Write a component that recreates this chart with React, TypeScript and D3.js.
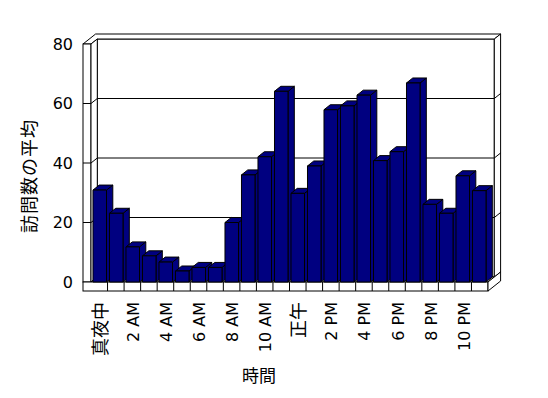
import React from "react";
import * as d3 from "d3";

// 時間ごとの訪問数の平均
const categories = [
  "真夜中", "1 AM", "2 AM", "3 AM", "4 AM", "5 AM", "6 AM", "7 AM", "8 AM", "9 AM", "10 AM", "11 AM",
  "正午", "1 PM", "2 PM", "3 PM", "4 PM", "5 PM", "6 PM", "7 PM", "8 PM", "9 PM", "10 PM", "11 PM",
];
const visits = [
  30.9, 23.1, 11.8, 8.8, 6.7, 3.7, 4.9, 4.9, 20.0, 36.0, 42.1, 64.1,
  29.8, 39.0, 57.9, 59.2, 62.8, 40.8, 43.8, 66.9, 26.1, 23.1, 35.7, 30.7,
];
const yTicks = [0, 20, 40, 60, 80];
const shownLabels = ["真夜中", "2 AM", "4 AM", "6 AM", "8 AM", "10 AM", "正午", "2 PM", "4 PM", "6 PM", "8 PM", "10 PM"];

const W = 548, H = 398;
const wallL = 83, plotL = 91, plotR = 488;
const floorTop = 282, floorBot = 291;
const dx = 6.3, dy = -5; // depth offset
const font = "'DejaVu Sans', 'Noto Sans CJK JP', sans-serif";
const barFill = "#000080";

const pts = (a: number[][]) => a.map(p => p.join(",")).join(" ");

export default function App() {
  const y = d3.scaleLinear().domain([0, 80]).range([floorTop, 44]);
  const x = d3.scaleBand<string>().domain(categories).range([plotL, plotR]).paddingInner(0.18).paddingOuter(0.12);
  const cell = d3.scaleBand<string>().domain(categories).range([plotL, plotR]);
  const bw = x.bandwidth();
  const top = y(80);

  const wallStyle = { fill: "#fff", stroke: "#000", strokeWidth: 1 };

  return (
    <svg width={W} height={H} style={{ position: "absolute", left: 0, top: 0, background: "#fff" }}>
      {/* back wall */}
      <polygon points={pts([[plotL + dx, top + dy], [plotR + dx, top + dy], [plotR + dx, floorTop + dy], [plotL + dx, floorTop + dy]])} {...wallStyle} />
      <polygon points={pts([[wallL, top], [plotL, top], [plotL + dx, top + dy], [plotR + dx, top + dy], [plotR + 2 * dx, top + 2 * dy], [wallL + 2 * dx, top + 2 * dy]])} {...wallStyle} />
      <polygon points={pts([[plotR + dx, top + dy], [plotR + 2 * dx, top + 2 * dy], [plotR + 2 * dx, floorTop + 2 * dy], [plotR + dx, floorTop + dy]])} {...wallStyle} />
      {/* left wall */}
      <rect x={wallL} y={top} width={plotL - wallL} height={floorTop - top} {...wallStyle} />
      <polygon points={pts([[plotL, top], [plotL + dx, top + dy], [plotL + dx, floorTop + dy], [plotL, floorTop]])} {...wallStyle} />
      {/* floor */}
      <polygon points={pts([[plotL, floorTop], [plotL + dx, floorTop + dy], [plotR + dx, floorTop + dy], [plotR, floorTop]])} {...wallStyle} />
      <rect x={wallL} y={floorTop} width={plotR - wallL} height={floorBot - floorTop} {...wallStyle} />
      <polygon points={pts([[plotR, floorTop], [plotR + 2 * dx, floorTop + 2 * dy], [plotR + 2 * dx, floorBot + 2 * dy], [plotR, floorBot]])} {...wallStyle} />
      {categories.slice(1).map(c => (
        <line key={c} x1={cell(c)} x2={cell(c)} y1={floorTop} y2={floorBot} stroke="#000" />
      ))}
      {/* gridlines */}
      {yTicks.filter(t => t > 0 && t < 80).map(t => (
        <polyline key={t} fill="none" stroke="#000"
          points={pts([[wallL, y(t)], [plotL, y(t)], [plotL + dx, y(t) + dy], [plotR + dx, y(t) + dy], [plotR + 2 * dx, y(t) + 2 * dy]])} />
      ))}
      {/* bars */}
      {categories.map((c, i) => {
        const x0 = x(c)!;
        const yt = y(visits[i]);
        return (
          <g key={c} fill={barFill} stroke="#000" strokeWidth={1} strokeLinejoin="round">
            <polygon points={pts([[x0 + bw, yt], [x0 + bw + dx, yt + dy], [x0 + bw + dx, floorTop + dy], [x0 + bw, floorTop]])} />
            <polygon points={pts([[x0, yt], [x0 + dx, yt + dy], [x0 + bw + dx, yt + dy], [x0 + bw, yt]])} />
            <rect x={x0} y={yt} width={bw} height={floorTop - yt} />
          </g>
        );
      })}
      {/* y axis labels */}
      {yTicks.map(t => (
        <text key={t} x={73} y={y(t)} textAnchor="end" dominantBaseline="central" fontFamily={font} fontSize={16}>{t}</text>
      ))}
      {/* x axis labels */}
      {shownLabels.map(c => {
        const cx = cell(c)! + cell.bandwidth() / 2 + 1;
        const cjk = /[^\x00-\x7f]/.test(c);
        return (
          <text key={c} transform={`translate(${cx},302) rotate(-90)`} textAnchor="end" dominantBaseline="central"
            fontFamily={font} fontSize={cjk ? 18 : 16}>{c}</text>
        );
      })}
      <text transform="translate(29,176) rotate(-90)" textAnchor="middle" dominantBaseline="central" fontFamily={font} fontSize={18} letterSpacing={1}>訪問数の平均</text>
      <text x={259} y={376} textAnchor="middle" dominantBaseline="central" fontFamily={font} fontSize={17}>時間</text>
    </svg>
  );
}
